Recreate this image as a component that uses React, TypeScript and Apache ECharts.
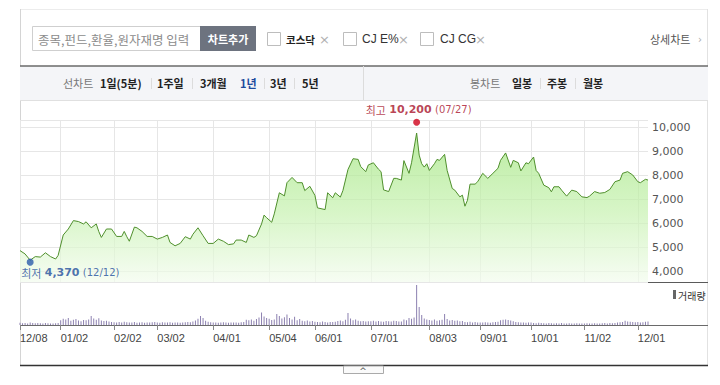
import React, { useEffect, useRef } from "react";
import * as echarts from "echarts";

// ---- trading calendar (KRX), 2014-12-08 .. 2015-12-07 ----
const holidays = ["12/25", "12/31", "01/01", "02/18", "02/19", "02/20", "05/01", "05/05", "05/25", "08/14", "09/28", "09/29", "10/09"];
function buildTradingDays(): string[] {
  const out: string[] = [];
  const d = new Date(2014, 11, 8);
  const end = new Date(2015, 11, 7);
  while (d <= end) {
    const wd = d.getDay();
    const key = String(d.getMonth() + 1).padStart(2, "0") + "/" + String(d.getDate()).padStart(2, "0");
    if (wd !== 0 && wd !== 6 && !holidays.includes(key)) out.push(key);
    d.setDate(d.getDate() + 1);
  }
  return out;
}
const categories = buildTradingDays();
const monthTicks = ["12/08", "01/02", "02/02", "03/02", "04/01", "05/04", "06/01", "07/01", "08/03", "09/01", "10/01", "11/02", "12/01"];
const yTicks = [4000, 5000, 6000, 7000, 8000, 9000, 10000];

// ---- price (close) ----
const priceDates = [
  "12/08", "12/10", "12/12", "12/16", "12/18", "12/22", "12/24", "12/29", "12/30",
  "01/05", "01/07", "01/09", "01/13", "01/15", "01/16", "01/20", "01/22", "01/23", "01/26", "01/28", "01/30",
  "02/03", "02/05", "02/06", "02/09", "02/10", "02/12", "02/13", "02/17", "02/24", "02/26",
  "03/02", "03/04", "03/06", "03/09", "03/11", "03/13", "03/17", "03/19", "03/20", "03/24", "03/26", "03/30",
  "04/01", "04/03", "04/07", "04/09", "04/13", "04/14", "04/16", "04/20", "04/21", "04/23", "04/24", "04/28", "04/29", "04/30",
  "05/06", "05/07", "05/11", "05/13", "05/14", "05/18", "05/20", "05/22", "05/26", "05/28",
  "06/01", "06/02", "06/05", "06/08", "06/10", "06/11", "06/15", "06/16", "06/18", "06/22", "06/24", "06/25", "06/29", "06/30",
  "07/02", "07/06", "07/07", "07/08", "07/10", "07/14", "07/15", "07/17", "07/20", "07/22", "07/23", "07/27", "07/28", "07/29", "07/30", "07/31",
  "08/03", "08/05", "08/06", "08/07", "08/11", "08/12", "08/17", "08/18", "08/20", "08/21", "08/24", "08/25", "08/26", "08/28", "08/31",
  "09/02", "09/04", "09/08", "09/10", "09/11", "09/15", "09/17", "09/18", "09/22", "09/23", "09/25", "09/30",
  "10/02", "10/05", "10/06", "10/08", "10/13", "10/14", "10/15", "10/19", "10/20", "10/22", "10/26", "10/28", "10/30",
  "11/03", "11/04", "11/06", "11/10", "11/12", "11/16", "11/18", "11/20", "11/23", "11/25", "11/27",
  "12/01", "12/02", "12/04", "12/07",
];
const priceValues = [
  4850, 4710, 4450, 4600, 4580, 4760, 4600, 4500, 4650,
  5500, 5750, 6100, 6060, 5960, 6050, 5800, 5960, 5640, 5400, 5750, 5750,
  5440, 5440, 5650, 5430, 5240, 5830, 5800, 5650, 5440, 5440,
  5330, 5400, 5500, 5190, 5050, 5150, 5430, 5330, 5530, 5800, 5470, 5150,
  5150, 5330, 5240, 5100, 5130, 5290, 5290, 5190, 5500, 5400, 5470, 5960, 6330, 6220,
  6030, 6380, 7260, 7130, 7680, 7900, 7680, 7680, 7350, 7530,
  7150, 6630, 6560, 7260, 7050, 7260, 7080, 7350, 8230, 8680, 8650, 8350, 8140, 8420,
  8510, 8240, 8140, 7380, 7310, 7860, 7860, 7790, 8600, 8070, 8510, 9750, 8830, 8470, 8330, 8470,
  8190, 8470, 8650, 8610, 8860, 8190, 7440, 7370, 7090, 7160, 6700, 6950, 7620, 7620, 7720,
  8070, 7860, 8070, 8280, 8610, 8920, 8320, 8610, 8510, 8170, 8510, 8470,
  8750, 8190, 8070, 7580, 7470, 7300, 7510, 7510, 7370, 7120, 7370, 7310, 7090,
  7060, 7120, 7310, 7240, 7270, 7400, 7720, 7790, 8070, 8140, 8000,
  7720, 7680, 7820, 7790,
];

// ---- daily volume (thousand shares), one per trading day ----
const volumes = [
  220, 180, 200, 160, 240, 190, 170, 210, 180, 150, 200, 170, 160, 140, 180, 190,
  480, 620, 550, 700, 430, 520, 600, 450, 380, 500, 470, 560, 900, 640, 520, 680, 450, 390, 420, 350, 300,
  280, 260, 300, 250, 320, 270, 240, 260, 290, 230, 250, 270, 220, 260, 240, 280, 300,
  250, 230, 270, 240, 260, 280, 220, 250, 240, 230, 260, 280, 300, 270, 350, 450, 620, 900, 700, 420, 330, 280,
  260, 240, 230, 250, 270, 240, 220, 250, 260, 240, 230, 280, 300, 520, 480, 560, 420, 600, 750, 1250, 850, 700,
  620, 500, 550, 1100, 900, 650, 780, 1050, 700, 560, 820, 480, 600, 420, 380, 450, 350, 400,
  320, 300, 280, 350, 300, 260, 290, 310, 330, 400, 450, 380, 520, 1200, 650, 480, 560, 420, 380, 400, 350, 370,
  380, 420, 350, 400, 360, 330, 410, 380, 350, 420, 390, 360, 340, 550, 480, 700, 620, 750, 4000, 1800, 1000, 650, 550,
  500, 450, 550, 420, 480, 520, 1100, 600, 450, 500, 420, 460, 380, 400, 300, 280, 320, 260, 290, 250,
  260, 240, 280, 250, 230, 270, 300, 320, 480, 520, 550, 500, 450, 380, 300, 280, 260, 240, 220, 250,
  260, 200, 180, 220, 190, 170, 160, 200, 180, 150, 170, 160, 190, 150, 140, 170, 160, 150, 180, 160, 150,
  150, 170, 160, 140, 180, 160, 150, 170, 190, 160, 200, 180, 210, 240, 280, 300, 420, 350, 320, 300, 280,
  300, 260, 280, 320, 350,
];

const lowPoint = { date: "12/12", value: 4370 };
const highPoint = { date: "07/27", value: 10200 };

const KR = '"Noto Sans CJK KR", sans-serif';

function txt(text: string, x: number, y: number, o: any = {}) {
  return {
    type: "text",
    x,
    y,
    silent: true,
    style: {
      text,
      fill: o.fill || "#222",
      fontSize: o.size || 11,
      fontFamily: o.family || KR,
      fontWeight: o.weight || "normal",
      align: o.align || "left",
      verticalAlign: "middle",
    },
  };
}
function ln(x1: number, y1: number, x2: number, y2: number, stroke: string, lineWidth = 1) {
  return { type: "line", silent: true, shape: { x1, y1, x2, y2 }, style: { stroke, lineWidth } };
}
function sep(x: number) {
  return ln(x + 0.5, 78, x + 0.5, 89, "#dcdcdc");
}

export default function App() {
  const ref = useRef<HTMLDivElement>(null);
  useEffect(() => {
    if (!ref.current) return;
    const chart = echarts.init(ref.current, undefined, { renderer: "svg" });
    const isMonth = (_i: number, v: string) => monthTicks.includes(v);
    const fmt = (n: number) => n.toLocaleString("en-US");

    const graphic: any[] = [
      // frame
      ln(20, 9.5, 707, 9.5, "#ececec"),
      ln(20.5, 9, 20.5, 366, "#d4d4d4"),
      ln(707.5, 9, 707.5, 366, "#e2e2e2"),
      // search box
      { type: "rect", silent: true, shape: { x: 32.5, y: 26.5, width: 168, height: 24 }, style: { fill: "#fff", stroke: "#cfcfcf" } },
      txt("종목,펀드,환율,원자재명 입력", 38, 39, { fill: "#8c8c8c", size: 12.5 }),
      { type: "rect", silent: true, shape: { x: 200, y: 26, width: 56, height: 25 }, style: { fill: "#6d737f" } },
      txt("차트추가", 228, 39, { fill: "#fff", weight: "bold", size: 11, align: "center" }),
      // checkboxes
      { type: "rect", silent: true, shape: { x: 267.5, y: 32.5, width: 13, height: 13 }, style: { fill: "#fff", stroke: "#bdbdbd" } },
      txt("코스닥", 286, 39, { weight: "bold", size: 10.5 }),
      txt("×", 319, 39, { fill: "#b0b0b0", size: 13, family: "DejaVu Sans" }),
      { type: "rect", silent: true, shape: { x: 343.5, y: 32.5, width: 13, height: 13 }, style: { fill: "#fff", stroke: "#bdbdbd" } },
      txt("CJ E%", 362, 39, { size: 12, family: "Liberation Sans", fill: "#333" }),
      txt("×", 398, 39, { fill: "#b0b0b0", size: 13, family: "DejaVu Sans" }),
      { type: "rect", silent: true, shape: { x: 420.5, y: 32.5, width: 13, height: 13 }, style: { fill: "#fff", stroke: "#bdbdbd" } },
      txt("CJ CG", 440, 39, { size: 12, family: "Liberation Sans", fill: "#333" }),
      txt("×", 475, 39, { fill: "#b0b0b0", size: 13, family: "DejaVu Sans" }),
      txt("상세차트", 650, 39, { fill: "#555", size: 11 }),
      txt("›", 698, 39, { fill: "#aaa", size: 10, family: "DejaVu Sans" }),
      // tab bar
      { type: "rect", silent: true, shape: { x: 20, y: 66, width: 688, height: 34 }, style: { fill: "#f4f5f8" } },
      ln(20, 66, 708, 66, "#6a6a6a", 1.5),
      ln(20, 100.5, 708, 100.5, "#e0e0e0"),
      ln(363.5, 66, 363.5, 100, "#dcdcdc"),
      txt("선차트", 63, 83, { fill: "#777" }),
      txt("1일(5분)", 100, 83, { weight: "bold" }),
      sep(151),
      txt("1주일", 157, 83, { weight: "bold" }),
      sep(192),
      txt("3개월", 200, 83, { weight: "bold" }),
      txt("1년", 240, 83, { weight: "bold", fill: "#1d4b9e" }),
      sep(264),
      txt("3년", 270, 83, { weight: "bold" }),
      sep(294),
      txt("5년", 302, 83, { weight: "bold" }),
      txt("봉차트", 470, 83, { fill: "#777" }),
      txt("일봉", 512, 83, { weight: "bold" }),
      sep(540),
      txt("주봉", 547, 83, { weight: "bold" }),
      sep(575),
      txt("월봉", 583, 83, { weight: "bold" }),
      // panel separators
      ln(20, 282.5, 708, 282.5, "#5a5a5a"),
      ln(20, 325.5, 708, 325.5, "#6a6a6a"),
      ln(20, 365.5, 708, 365.5, "#333", 1.5),
      // volume legend
      { type: "rect", silent: true, shape: { x: 673, y: 290, width: 3, height: 9 }, style: { fill: "#666" } },
      txt("거래량", 678, 295, { size: 10, fill: "#333" }),
      // collapse handle
      { type: "rect", silent: true, shape: { x: 343.5, y: 366, width: 40, height: 7.5 }, style: { fill: "#fafafa", stroke: "#aaa" } },
      txt("^", 363, 371, { size: 9, family: "DejaVu Sans", fill: "#555", align: "center" }),
    ];

    const option: any = {
      animation: false,
      backgroundColor: "#fff",
      graphic,
      grid: [
        { left: 20, top: 120, width: 628, height: 162 },
        { left: 20, top: 283, width: 628, height: 42 },
      ],
      xAxis: [
        {
          type: "category",
          gridIndex: 0,
          data: categories,
          boundaryGap: false,
          axisLine: { show: false },
          axisTick: { show: false },
          axisLabel: { show: false },
          splitLine: { show: true, interval: isMonth, lineStyle: { color: "#e6e6e6" } },
        },
        {
          type: "category",
          gridIndex: 1,
          data: categories,
          boundaryGap: false,
          axisLine: { show: false },
          axisTick: { show: true, interval: isMonth, length: 5, lineStyle: { color: "#888" } },
          axisLabel: {
            interval: isMonth,
            align: "left",
            margin: 7,
            color: "#444",
            fontSize: 11,
            fontFamily: "Liberation Sans",
          },
          splitLine: { show: false },
        },
      ],
      yAxis: [
        {
          type: "value",
          gridIndex: 0,
          position: "right",
          min: 3542,
          max: 10292,
          splitNumber: 7,
          axisLine: { show: false },
          axisTick: { show: false },
          axisLabel: {
            margin: 4,
            color: "#555",
            fontSize: 11,
            fontFamily: "DejaVu Sans",
            showMinLabel: false,
            showMaxLabel: false,
            formatter: (v: number) => (yTicks.includes(v) ? fmt(v) : ""),
          },
          splitLine: { show: true, lineStyle: { color: "#e6e6e6" } },
        },
        {
          type: "value",
          gridIndex: 1,
          min: 0,
          max: 4200,
          axisLine: { show: false },
          axisTick: { show: false },
          axisLabel: { show: false },
          splitLine: { show: false },
        },
      ],
      series: [
        {
          type: "line",
          xAxisIndex: 0,
          yAxisIndex: 0,
          data: priceDates.map((d, i) => [d, priceValues[i]]),
          symbol: "none",
          lineStyle: { color: "#4f8f2c", width: 1 },
          areaStyle: {
            origin: "start",
            color: new echarts.graphic.LinearGradient(0, 0, 0, 1, [
              { offset: 0, color: "#9ee47a" },
              { offset: 0.55, color: "#c8f2b2" },
              { offset: 1, color: "#f3fcee" },
            ]),
          },
          z: 2,
        },
        {
          type: "scatter",
          xAxisIndex: 0,
          yAxisIndex: 0,
          symbolSize: 7,
          z: 5,
          data: [
            {
              value: [lowPoint.date, lowPoint.value],
              itemStyle: { color: "#2a5cab" },
              label: {
                show: true,
                position: "bottom",
                align: "left",
                distance: 1,
                offset: [-9, 0],
                formatter: `{a|최저} {b|${fmt(lowPoint.value)}} {c|(${lowPoint.date})}`,
                rich: {
                  a: { fontFamily: KR, fontSize: 11, color: "#1f4f9c" },
                  b: { fontFamily: "DejaVu Sans", fontWeight: "bold", fontSize: 11, color: "#1f4f9c" },
                  c: { fontFamily: "DejaVu Sans", fontSize: 10, color: "#1f4f9c" },
                },
              },
            },
            {
              value: [highPoint.date, highPoint.value],
              itemStyle: { color: "#d0021b" },
              label: {
                show: true,
                position: "top",
                distance: 3,
                offset: [2, 0],
                formatter: `{a|최고} {b|${fmt(highPoint.value)}} {c|(${highPoint.date})}`,
                rich: {
                  a: { fontFamily: KR, fontSize: 11, color: "#a8122a" },
                  b: { fontFamily: "DejaVu Sans", fontWeight: "bold", fontSize: 11, color: "#a8122a" },
                  c: { fontFamily: "DejaVu Sans", fontSize: 10, color: "#a8122a" },
                },
              },
            },
          ],
        },
        {
          type: "bar",
          xAxisIndex: 1,
          yAxisIndex: 1,
          data: volumes,
          barWidth: 1,
          itemStyle: { color: "#8c80b0" },
        },
      ],
    };
    chart.setOption(option);
    return () => chart.dispose();
  }, []);
  return <div ref={ref} style={{ position: "fixed", left: 0, top: 0, width: 720, height: 385 }} />;
}
